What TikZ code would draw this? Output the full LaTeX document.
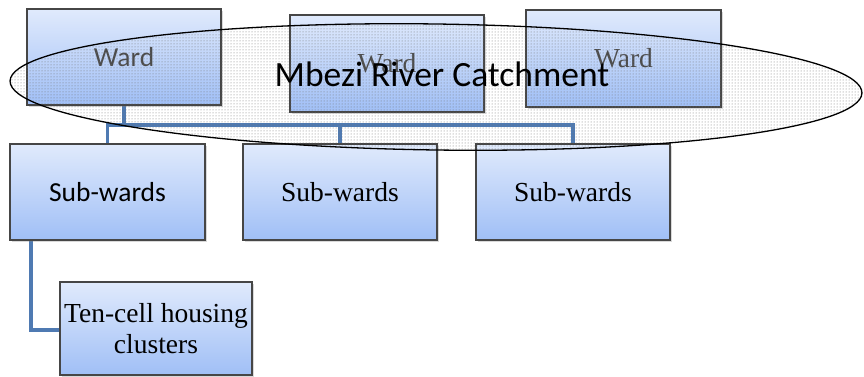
\documentclass[tikz,border=0pt]{standalone}
\usepackage{fontspec}
\setmainfont{Liberation Serif}
\newfontfamily\calibri{Carlito}
\usetikzlibrary{shapes.geometric,patterns,shadows,calc}
\definecolor{boxtop}{RGB}{224,234,252}
\definecolor{boxbot}{RGB}{160,191,246}
\definecolor{linkblue}{RGB}{79,122,178}
\definecolor{boxline}{RGB}{70,70,70}
\tikzset{
  unitbox/.style={rectangle, draw=boxline, line width=1.4pt, top color=boxtop, bottom color=boxbot,
    minimum width=194pt, minimum height=96pt, inner sep=2pt, font=\fontsize{27.5}{31}\selectfont,
    align=center, drop shadow={opacity=0.3, shadow xshift=2pt, shadow yshift=-2pt}},
  link/.style={draw=linkblue, line width=3.6pt},
}
\begin{document}
\begin{tikzpicture}[x=1pt, y=-1pt]
                \useasboundingbox (0,0) rectangle (864,377);
                % links first, boxes and catchment on top
                \coordinate (bus) at (124,125);
                \coordinate (tap) at (31,240);
                \draw[link] (124,105) to (bus);
                \draw[link] (107.5,144) |- (bus) -| (573,144);
                \draw[link] (340,125) to (340,144);
                \draw[link] (tap) |- (156,330);

                \node[unitbox] (ward1) at (124,57) {\calibri\color{black!70}Ward};
                \node[unitbox, minimum height=97pt] (ward2) at (387,63.5) {\color{black!70}Ward};
                \node[unitbox, minimum width=195pt, minimum height=97pt] (ward3) at (623.5,58.5) {\color{black!70}Ward};

                \node[unitbox, minimum width=195pt] (sub1) at (107.5,192) {\calibri Sub-wards};
                \node[unitbox] (sub2) at (340,192) {Sub-wards};
                \node[unitbox] (sub3) at (573,192) {Sub-wards};
                \node[unitbox, minimum width=192pt, minimum height=93pt, inner sep=0pt] (ten) at (156,328.5) {Ten-cell housing\\clusters};

                \node[ellipse, draw=black, line width=1.3pt, pattern=dots, pattern color=black!55,
                      minimum width=852pt, minimum height=126pt, inner sep=0pt, rotate=-0.8] (catchment) at (436,87) {};
                \node[font=\calibri\fontsize{35.5}{40}\selectfont] (catchlbl) at (442,74) {Mbezi River Catchment};
            \end{tikzpicture}
\end{document}
